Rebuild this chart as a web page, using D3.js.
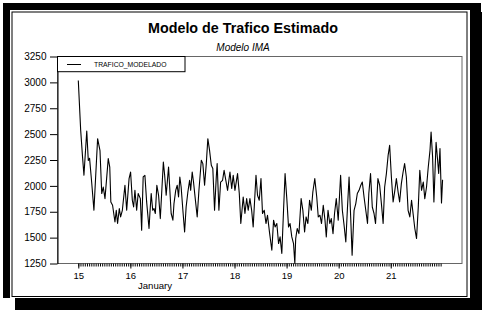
<!DOCTYPE html>
<html>
<head>
<meta charset="utf-8">
<script src="https://cdn.jsdelivr.net/npm/d3@7/dist/d3.min.js"></script>
<style>
  body { margin: 0; background: #fff; }
  svg { display: block; font-family: "Liberation Sans", Arial, sans-serif; }
</style>
</head>
<body>
<div id="chart"></div>
<script>
// Hours since January 15 00:00
const horas = [0, 1.1, 1.9, 2.6, 3.9, 4.6, 5.2, 6.2, 7.2, 8.9, 10, 10.8, 11.5, 12.3, 13.8, 14.5, 15, 15.8, 16.9, 17.5,
  18.1, 18.9, 19.5, 20.3, 21.5, 22.3, 23.4, 24.1, 24.9, 25.5, 26.1, 26.9, 27.6, 28.6, 29.2, 29.9, 30.7, 31.5, 32.6, 33,
  33.6, 34.3, 34.9, 35.5, 36.2, 37, 37.8, 39.2, 39.8, 40.5, 41.6, 42.2, 42.8, 43.6, 44.1, 44.9, 45.6, 46.2, 46.8, 47.4,
  48.2, 49, 49.7, 50.5, 51.3, 51.8, 52.5, 53.1, 53.9, 54.8, 55.6, 56.7, 57.4, 58.2, 59, 59.7, 60.5, 61.3, 62, 62.8,
  63.6, 64, 64.8, 65.6, 66.5, 67.2, 68, 68.8, 69.9, 70.7, 71.4, 72.2, 73.4, 74.2, 74.9, 76, 76.8, 77.6, 78.3, 79.1,
  79.9, 80.6, 81.9, 82.6, 83.4, 84.2, 84.9, 85.7, 86.5, 87.2, 88.2, 89.2, 90, 90.7, 91.5, 92.3, 93, 93.8, 94.6, 95.3,
  96.1, 96.9, 97.6, 98.4, 99.2, 99.8, 100.2, 100.9, 101.7, 102.7, 103.5, 104.3, 105, 105.8, 106.6, 107.4, 108.1, 109, 109.9, 110.6,
  111.4, 112.1, 112.9, 113.7, 114.3, 115.1, 115.9, 116.6, 117.4, 118.1, 118.9, 119.8, 120.9, 121.7, 122.5, 123.3, 124, 124.8, 125.6, 126.2,
  127.1, 127.9, 128.6, 129.4, 130.2, 130.9, 131.7, 132.5, 133.3, 133.9, 134.7, 135.5, 136.3, 137, 138.1, 138.9, 139.7, 140.5, 141.2, 142,
  142.8, 143.5, 144.3, 145.1, 145.9, 146.6, 147.4, 148.1, 148.9, 149.7, 150.4, 151.2, 152, 152.8, 153.6, 154.3, 155.1, 155.9, 156.7, 157.4,
  158.2, 159, 159.7, 160.5, 161.3, 162.1, 162.6, 163.3, 163.9, 164.9, 165.6, 166.1, 166.7, 167.4, 167.9];

const trafico = [3019, 2536, 2295, 2102, 2530, 2245, 2266, 2025, 1764, 2456, 2340, 1926, 1989, 1877, 2263, 2182, 1845, 1813, 1651, 1764,
  1636, 1781, 1700, 1764, 2006, 1764, 2070, 2134, 1861, 1796, 1957, 1764, 1926, 1877, 1571, 2086, 2102, 1845, 1588, 1733,
  1926, 1764, 1781, 1733, 2006, 1909, 1684, 2230, 2102, 1909, 2182, 1957, 1733, 1668, 1829, 1957, 2006, 1893, 2086, 1989,
  1764, 1555, 1796, 1941, 2054, 1957, 2134, 2037, 1877, 1700, 1957, 2247, 2215, 2006, 2215, 2456, 2343, 2199, 2167, 1764,
  2086, 2215, 1764, 2037, 2054, 2150, 2054, 1957, 2134, 1974, 2102, 1957, 2118, 1926, 1636, 1893, 1733, 1877, 1764, 1877,
  1764, 1603, 2102, 1909, 1861, 2070, 1733, 1764, 1636, 1716, 1539, 1378, 1668, 1603, 1636, 1443, 1507, 1346, 1764, 2118,
  1877, 1603, 1636, 1507, 1443, 1253, 1491, 1588, 1539, 1877, 1764, 1555, 1700, 1636, 1861, 1764, 1941, 2070, 1893, 1700,
  1716, 1636, 1813, 1668, 1507, 1764, 1636, 1684, 1539, 1733, 1877, 1668, 2102, 1764, 1620, 1458, 1764, 2086, 1668, 1330,
  1764, 1829, 1926, 1957, 2006, 2037, 1893, 1764, 1636, 1926, 2118, 1796, 1733, 1636, 2070, 2006, 1829, 1636, 1989, 2118,
  2295, 2392, 2086, 1845, 1957, 2070, 1941, 1845, 2022, 2134, 2215, 2086, 1764, 1700, 1861, 1733, 1588, 1491, 1796, 2150,
  1957, 2037, 1877, 1989, 2182, 2343, 2520, 2279, 1845, 2420, 2250, 2120, 2360, 1835, 2060];

const yTicks = [1250, 1500, 1750, 2000, 2250, 2500, 2750, 3000, 3250];
const diasEtiqueta = [15, 16, 17, 18, 19, 20, 21];

const titulo = "Modelo de Trafico Estimado";
const subtitulo = "Modelo IMA";
const serie = "TRAFICO_MODELADO";
const mes = "January";

const W = 485, H = 315;
const plot = { left: 57.5, right: 462, top: 56.5, bottom: 263.5 };

const svg = d3.select("#chart").append("svg")
  .attr("width", W).attr("height", H);

// frame with drop shadow
svg.append("rect").attr("x", 15).attr("y", 12).attr("width", 467).attr("height", 298).attr("fill", "#000");
svg.append("rect").attr("x", 3).attr("y", 3).attr("width", 478).attr("height", 10).attr("fill", "#000");
svg.append("rect").attr("x", 3).attr("y", 3).attr("width", 467).attr("height", 295).attr("fill", "#000");
svg.append("rect").attr("x", 10).attr("y", 10).attr("width", 460).attr("height", 288).attr("fill", "#fff");
svg.append("rect").attr("x", 12).attr("y", 12).attr("width", 455).attr("height", 284.5)
  .attr("fill", "none").attr("stroke", "#000").attr("stroke-width", 1);

// titles
svg.append("text").attr("x", 243).attr("y", 33).attr("text-anchor", "middle")
  .attr("font-size", "14.3px").attr("font-weight", "bold").text(titulo);
svg.append("text").attr("x", 243).attr("y", 50.5).attr("text-anchor", "middle")
  .attr("font-size", "10px").attr("font-style", "italic").text(subtitulo);

const base = new Date(2000, 0, 15);
const datos = horas.map((h, i) => ({ t: new Date(base.getTime() + h * 36e5), v: trafico[i] }));

const x = d3.scaleTime()
  .domain([base, d3.timeDay.offset(base, 7)])
  .range([78.3, 442.8]);

const y = d3.scaleLinear()
  .domain([1250, 3250])
  .range([plot.bottom, plot.top]);

// plot frame
svg.append("rect")
  .attr("x", plot.left).attr("y", plot.top)
  .attr("width", plot.right - plot.left).attr("height", plot.bottom - plot.top)
  .attr("fill", "none").attr("stroke", "#666").attr("stroke-width", 1);

// y axis
const yAxis = svg.append("g")
  .attr("transform", `translate(${plot.left},0)`)
  .call(d3.axisLeft(y).tickValues(yTicks).tickFormat(d3.format("d"))
    .tickSize(7.5).tickPadding(3.5).tickSizeOuter(0));
yAxis.select(".domain").attr("stroke", "#000");
yAxis.selectAll("text").attr("font-size", "10px").attr("font-family", "Liberation Sans, Arial, sans-serif").attr("fill", "#000");

// hourly minor ticks
const horasEje = d3.timeHour.range(base, d3.timeDay.offset(base, 7));
const xMinor = svg.append("g")
  .attr("transform", `translate(0,${plot.bottom})`)
  .call(d3.axisBottom(x).tickValues(horasEje).tickSize(3).tickFormat(""));
xMinor.select(".domain").remove();
xMinor.selectAll("line").attr("stroke", "#000").attr("stroke-width", 1);

// daily major ticks
const dias = diasEtiqueta.map(d => new Date(2000, 0, d));
const xMajor = svg.append("g")
  .attr("transform", `translate(0,${plot.bottom})`)
  .call(d3.axisBottom(x).tickValues(dias).tickSize(5).tickPadding(3.3).tickFormat(d3.timeFormat("%-d")));
xMajor.select(".domain").remove();
xMajor.selectAll("text").attr("font-size", "9.5px").attr("font-family", "Liberation Sans, Arial, sans-serif").attr("fill", "#000");

svg.append("text").attr("x", 155).attr("y", 289).attr("text-anchor", "middle")
  .attr("font-size", "9.6px").text(mes);

// series
const line = d3.line()
  .x(d => x(d.t))
  .y(d => y(d.v));

svg.append("path")
  .datum(datos)
  .attr("fill", "none")
  .attr("stroke", "#000")
  .attr("stroke-width", 1.1)
  .attr("stroke-linejoin", "round")
  .attr("d", line);

// legend
const leg = svg.append("g");
leg.append("rect").attr("x", plot.left).attr("y", plot.top).attr("width", 127.5).attr("height", 15.2)
  .attr("fill", "#fff").attr("stroke", "#000").attr("stroke-width", 1);
leg.append("line").attr("x1", 67).attr("x2", 81).attr("y1", 64.5).attr("y2", 64.5)
  .attr("stroke", "#000").attr("stroke-width", 1);
leg.append("text").attr("x", 94).attr("y", 66.8).attr("font-size", "6.8px").text(serie);
</script>
</body>
</html>
